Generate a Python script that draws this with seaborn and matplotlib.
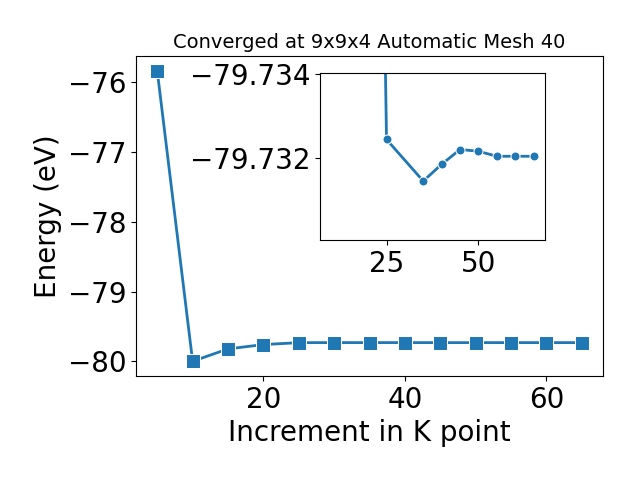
import matplotlib
matplotlib.use('Agg')
import matplotlib.pyplot as plt
import seaborn as sns

# main convergence curve
kpoints = [5, 10, 15, 20, 25, 30, 35, 40, 45, 50, 55, 60, 65]
energy = [-75.833, -80.000, -79.822, -79.760, -79.7325, -79.7320, -79.7315,
          -79.7319, -79.7322, -79.7322, -79.7321, -79.7321, -79.7321]

# zoomed inset
inset_k = [10, 15, 20, 25, 35, 40, 45, 50, 55, 60, 65]
inset_energy = [-80.000, -79.822, -79.760, -79.73245, -79.73146, -79.73186,
                -79.73221, -79.73217, -79.73205, -79.73205, -79.73205]

fig = plt.figure(figsize=(6.4, 4.8), dpi=100)
ax = fig.add_axes([0.2125, 0.217, 0.7297, 0.666])
sns.lineplot(x=kpoints, y=energy, marker='s', markersize=10, linewidth=2, ax=ax)
ax.set_xlabel('Increment in K point', fontsize=20)
ax.set_ylabel('Energy (eV)', fontsize=20)
ax.set_title('Converged at 9x9x4 Automatic Mesh 40', fontsize=14)
ax.tick_params(labelsize=20)
ax.set_xticks([20, 40, 60])

ins = fig.add_axes([0.5, 0.5, 0.352, 0.348])
sns.lineplot(x=inset_k, y=inset_energy, marker='o', markersize=6.5, linewidth=2, ax=ins)
ins.set_xlim(6.9, 68.2)
ins.set_ylim(-79.73006, -79.73403)
ins.set_xticks([25, 50])
ins.set_yticks([-79.734, -79.732])
ins.set_yticklabels(['\u221279.734', '\u221279.732'])
ins.tick_params(labelsize=20)

fig.savefig('out.png', dpi=100)
